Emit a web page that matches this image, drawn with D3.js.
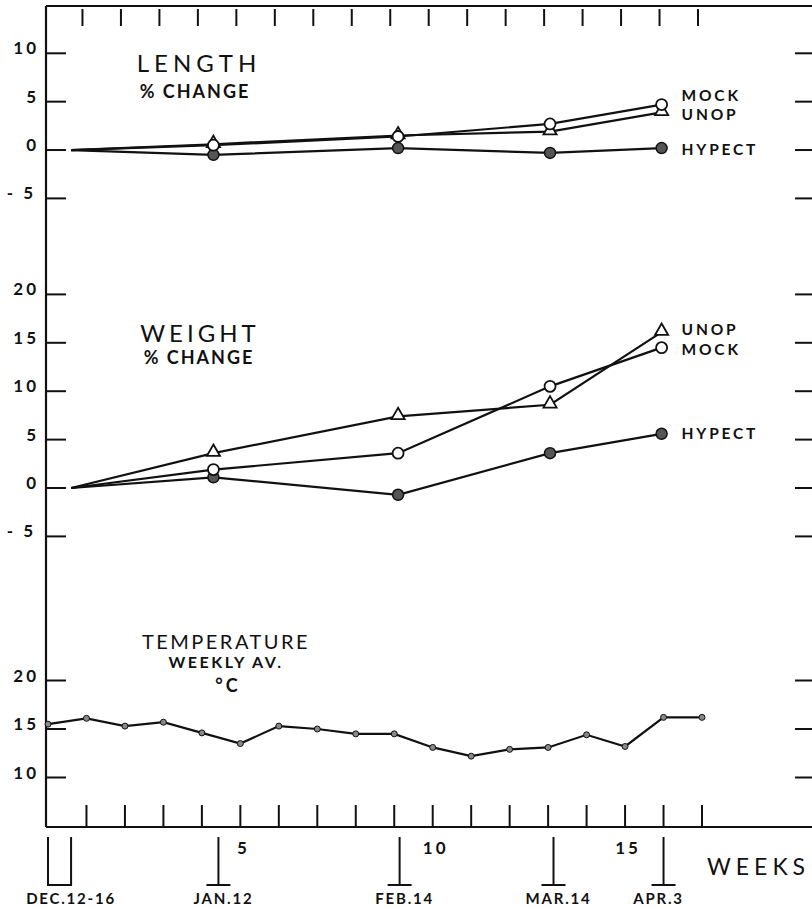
<!DOCTYPE html>
<html>
<head>
<meta charset="utf-8">
<script src="https://cdn.jsdelivr.net/npm/d3@7"></script>
<style>
  body { margin: 0; background: #fff; }
  svg text { font-family: Lato, "DejaVu Sans", sans-serif; fill: #111; }
</style>
</head>
<body>
<div id="chart"></div>
<script>
// weeks after Dec 12 at which growth was measured
let growthWeeks = [0.6, 4.3, 9.1, 13.05, 15.95];

let lengthMock = [0, 0.5, 1.4, 2.7, 4.7];
let lengthUnop = [0, 0.6, 1.5, 1.9, 3.9];
let lengthHypect = [0, -0.5, 0.2, -0.3, 0.2];

let weightMock = [0, 1.9, 3.6, 10.5, 14.5];
let weightUnop = [0, 3.6, 7.4, 8.6, 16.1];
let weightHypect = [0, 1.1, -0.7, 3.6, 5.6];

let tempWeeks = [0, 1, 2, 3, 4, 5, 6, 7, 8, 9, 10, 11, 12, 13, 14, 15, 16, 17];
let tempValues = [15.5, 16.1, 15.3, 15.7, 14.6, 13.5, 15.3, 15.0, 14.5, 14.5, 13.1, 12.2, 12.9, 13.1, 14.4, 13.2, 16.2, 16.2];

let dateLabels = ["DEC.12-16", "JAN.12", "FEB.14", "MAR.14", "APR.3"];
let dateWeeks = [0, 4.43, 9.14, 13.14, 16.0];
let weekLabels = [5, 10, 15];

let lengthTicks = [10, 5, 0, -5];
let weightTicks = [20, 15, 10, 5, 0, -5];
let tempTicks = [20, 15, 10];

let width = 812, height = 908;
let ink = "#111";

let svg = d3.select("#chart").append("svg")
    .attr("width", width)
    .attr("height", height);

let x = d3.scaleLinear().domain([0, 17]).range([48, 702]);
let yLength = d3.scaleLinear().domain([-5, 10]).range([198.4, 53.3]);
let yWeight = d3.scaleLinear().domain([-5, 20]).range([536.4, 294.4]);
let yTemp = d3.scaleLinear().domain([10, 20]).range([777.5, 680.5]);

let axisLeft = 46, axisTop = 6, axisBottom = 827;

// frame lines
svg.append("line").attr("x1", axisLeft).attr("x2", axisLeft)
    .attr("y1", axisTop).attr("y2", axisBottom)
    .attr("stroke", ink).attr("stroke-width", 2.2);
svg.append("line").attr("x1", axisLeft).attr("x2", width)
    .attr("y1", axisTop).attr("y2", axisTop)
    .attr("stroke", ink).attr("stroke-width", 2.2);
svg.append("line").attr("x1", axisLeft).attr("x2", width)
    .attr("y1", axisBottom).attr("y2", axisBottom)
    .attr("stroke", ink).attr("stroke-width", 2.2);

// week ticks, top and bottom
let weekTicks = d3.range(1, 18);
svg.selectAll(".ttick").data(weekTicks).enter().append("line")
    .attr("x1", d => x(d) - 4).attr("x2", d => x(d) - 4)
    .attr("y1", 9).attr("y2", 26)
    .attr("stroke", ink).attr("stroke-width", 2);
svg.selectAll(".btick").data(weekTicks).enter().append("line")
    .attr("x1", d => x(d)).attr("x2", d => x(d))
    .attr("y1", 805).attr("y2", 826)
    .attr("stroke", ink).attr("stroke-width", 2);

svg.selectAll(".wlab").data(weekLabels).enter().append("text")
    .attr("x", d => x(d) + 3).attr("y", 854)
    .attr("text-anchor", "middle")
    .style("font-size", "17px").style("font-weight", 700)
    .style("letter-spacing", "3px")
    .text(d => d);

svg.append("text").attr("x", 707).attr("y", 875)
    .style("font-size", "23px").style("letter-spacing", "5px")
    .text("WEEKS");

// date brackets under the axis
dateWeeks.forEach(function (w, i) {
    let g = svg.append("g");
    if (i === 0) {
        g.append("path")
            .attr("d", "M" + x(w) + ",837V885H" + x(growthWeeks[0]) + "V837")
            .attr("fill", "none").attr("stroke", ink).attr("stroke-width", 2);
    } else {
        g.append("line").attr("x1", x(w)).attr("x2", x(w))
            .attr("y1", 837).attr("y2", 885)
            .attr("stroke", ink).attr("stroke-width", 2);
        g.append("line").attr("x1", x(w) - 12).attr("x2", x(w) + 12)
            .attr("y1", 885).attr("y2", 885)
            .attr("stroke", ink).attr("stroke-width", 2);
    }
    let cx = i === 0 ? x(growthWeeks[0]) : x(w) + (i === 4 ? -5 : 5);
    g.append("text").attr("x", cx).attr("y", 904)
        .attr("text-anchor", "middle")
        .style("font-size", "15px").style("font-weight", 700)
        .style("letter-spacing", "1.8px")
        .text(dateLabels[i]);
});

// y ticks on both sides
function drawTicks(ticks, y) {
    ticks.forEach(function (t) {
        svg.append("line").attr("x1", axisLeft).attr("x2", 66)
            .attr("y1", y(t)).attr("y2", y(t))
            .attr("stroke", ink).attr("stroke-width", 2);
        svg.append("line").attr("x1", 795).attr("x2", width)
            .attr("y1", y(t)).attr("y2", y(t))
            .attr("stroke", ink).attr("stroke-width", 2);
        svg.append("text").attr("x", t < 0 ? 36 : 39).attr("y", y(t) + 1)
            .attr("text-anchor", "end")
            .style("font-size", "17px").style("font-weight", 700)
            .style("letter-spacing", "3px")
            .text(t < 0 ? "- " + Math.abs(t) : t);
    });
}
drawTicks(lengthTicks, yLength);
drawTicks(weightTicks, yWeight);
drawTicks(tempTicks, yTemp);

// series
function drawSeries(values, xs, y, marker) {
    let pts = values.map((v, i) => [x(xs[i]), y(v)]);
    svg.append("path")
        .attr("d", d3.line()(pts))
        .attr("fill", "none").attr("stroke", ink).attr("stroke-width", 2.2);
    pts.slice(1).forEach(function (p) {
        if (marker === "triangle") {
            svg.append("path")
                .attr("d", d3.symbol().type(d3.symbolTriangle).size(75)())
                .attr("transform", "translate(" + p[0] + "," + (p[1] - 1) + ")")
                .attr("fill", "#fff").attr("stroke", ink).attr("stroke-width", 1.8);
        } else if (marker === "open") {
            svg.append("circle").attr("cx", p[0]).attr("cy", p[1]).attr("r", 5.5)
                .attr("fill", "#fff").attr("stroke", ink).attr("stroke-width", 1.8);
        } else if (marker === "filled") {
            svg.append("circle").attr("cx", p[0]).attr("cy", p[1]).attr("r", 5.5)
                .attr("fill", "#555").attr("stroke", ink).attr("stroke-width", 1.5);
        }
    });
}

drawSeries(lengthHypect, growthWeeks, yLength, "filled");
drawSeries(lengthUnop, growthWeeks, yLength, "triangle");
drawSeries(lengthMock, growthWeeks, yLength, "open");

drawSeries(weightHypect, growthWeeks, yWeight, "filled");
drawSeries(weightMock, growthWeeks, yWeight, "open");
drawSeries(weightUnop, growthWeeks, yWeight, "triangle");

// temperature
let tempPts = tempValues.map((v, i) => [x(tempWeeks[i]), yTemp(v)]);
svg.append("path").attr("d", d3.line()(tempPts))
    .attr("fill", "none").attr("stroke", ink).attr("stroke-width", 2.2);
svg.selectAll(".tdot").data(tempPts).enter().append("circle")
    .attr("cx", d => d[0]).attr("cy", d => d[1]).attr("r", 3)
    .attr("fill", "#888").attr("stroke", ink).attr("stroke-width", 1);

// panel titles
function label(txt, lx, ly, size, weight, spacing, anchor) {
    svg.append("text").attr("x", lx).attr("y", ly)
        .attr("text-anchor", anchor || "middle")
        .style("font-size", size + "px").style("font-weight", weight)
        .style("letter-spacing", spacing + "px")
        .text(txt);
}
label("LENGTH", 199, 72, 24, 400, 5);
label("% CHANGE", 195, 98, 18, 700, 2);
label("WEIGHT", 200, 342, 24, 400, 4);
label("% CHANGE", 199, 364, 18, 700, 2);
label("TEMPERATURE", 226, 649, 20, 400, 2.5);
label("WEEKLY AV.", 226, 668, 16, 700, 2.5);
label("°C", 228, 692, 18, 700, 3);

// series names at the right
let lastX = x(growthWeeks[growthWeeks.length - 1]) + 20;
label("MOCK", lastX, 101, 15.5, 700, 2.8, "start");
label("UNOP", lastX, 120, 15.5, 700, 2.8, "start");
label("HYPECT", lastX, 155, 15.5, 700, 2.8, "start");
label("UNOP", lastX, 335, 15.5, 700, 2.8, "start");
label("MOCK", lastX, 355, 15.5, 700, 2.8, "start");
label("HYPECT", lastX, 439, 15.5, 700, 2.8, "start");
</script>
</body>
</html>
